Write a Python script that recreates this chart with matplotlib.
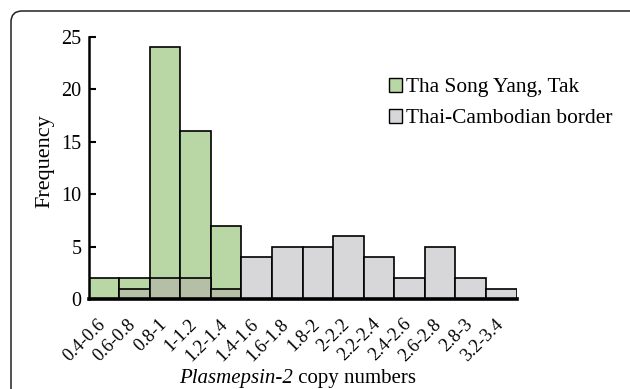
import numpy as np
import matplotlib
matplotlib.use('Agg')
import matplotlib.pyplot as plt
from matplotlib.patches import Patch, FancyBboxPatch
from matplotlib.transforms import ScaledTranslation

# Copy number bins and frequencies
bins = ['0.4-0.6', '0.6-0.8', '0.8-1', '1-1.2', '1.2-1.4', '1.4-1.6', '1.6-1.8',
        '1.8-2', '2-2.2', '2.2-2.4', '2.4-2.6', '2.6-2.8', '2.8-3', '3.2-3.4']
tak = [2, 2, 24, 16, 7, 0, 0, 0, 0, 0, 0, 0, 0, 0]
border = [0, 1, 2, 2, 1, 4, 5, 5, 6, 4, 2, 5, 2, 1]
yticks = [0, 5, 10, 15, 20, 25]

green = '#b9d7a4'
grey = '#d7d6d8'
mixed = '#b5bfa5'  # grey bar sitting on top of a green bar

plt.rcParams['font.family'] = ['Liberation Serif', 'DejaVu Serif']

fig = plt.figure(figsize=(6.3, 3.89), dpi=100)
ax = fig.add_axes([88.5 / 630, 1 - 299 / 389, 428 / 630, 262.3 / 389])

x = np.arange(len(bins))
ax.bar(x, tak, width=1.0, color=green, edgecolor='black', linewidth=1.2, zorder=2)
face = [mixed if t > 0 else grey for t in tak]
ax.bar(x, border, width=1.0, color=face, edgecolor='black', linewidth=1.2, zorder=3)

ax.set_xlim(-0.5, len(bins) - 0.5)
ax.set_ylim(0, 25)
ax.set_yticks(yticks)
ax.set_xticks(x)
ax.set_xticklabels(bins, rotation=45, ha='right', fontsize=13.2)
ax.tick_params(axis='x', length=0, pad=12)
ax.tick_params(axis='y', direction='in', length=5, width=1.5, labelsize=14.5, pad=5)
# labels sit a little to the right of the bar centres
shift = ScaledTranslation(5 / 100, 0, fig.dpi_scale_trans)
for lab in ax.get_xticklabels():
    lab.set_transform(lab.get_transform() + shift)

for side in ['top', 'right']:
    ax.spines[side].set_visible(False)
ax.spines['left'].set_linewidth(1.8)
ax.spines['bottom'].set_linewidth(2.6)
ax.spines['bottom'].set_zorder(4)

fig.text(45 / 630, 1 - 161 / 389, 'Frequency', rotation=90, fontsize=16,
         ha='center', va='center')
# x label: italic gene name followed by plain text
fig.text(293 / 630, 1 - 383 / 389, 'Plasmepsin-2', style='italic',
         fontsize=15, ha='right', va='baseline')
fig.text(293 / 630, 1 - 383 / 389, ' copy numbers',
         fontsize=15, ha='left', va='baseline')

handles = [Patch(facecolor=green, edgecolor='black', linewidth=1.0),
           Patch(facecolor=grey, edgecolor='black', linewidth=1.0)]
ax.legend(handles, ['Tha Song Yang, Tak', 'Thai-Cambodian border'],
          loc='upper left', bbox_to_anchor=(389 / 630, 1 - 78 / 389),
          bbox_transform=fig.transFigure, frameon=False, fontsize=15.4,
          handlelength=0.6, handleheight=0.6, handletextpad=0.2,
          labelspacing=0.55, borderaxespad=0, borderpad=0)

# rounded frame around the panel
frame = FancyBboxPatch((11, -30), 640, 408, boxstyle='round,pad=0,rounding_size=11',
                       transform=None, facecolor='none', edgecolor='#222222',
                       linewidth=1.1)
fig.patches.append(frame)

fig.savefig('out.png', dpi=100)
